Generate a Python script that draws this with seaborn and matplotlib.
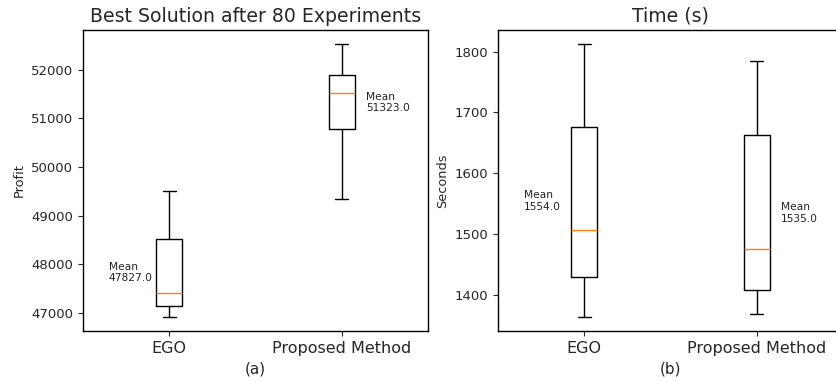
import pandas as pd
import seaborn as sns
import matplotlib.pyplot as plt

sns.set_style("ticks")
plt.rcParams['font.family'] = ['DejaVu Sans']

# Daten (min, Q1, Median, Q3, max)
categories = ["EGO", "Proposed Method"]
profit_ego = [46910, 47150, 47410, 48510, 49510]
profit_proposed = [49340, 50770, 51520, 51890, 52530]
time_ego = [1363, 1430, 1507, 1676, 1813]
time_proposed = [1368, 1408, 1475, 1663, 1784]
profit_means = [47827.0, 51323.0]
time_means = [1554.0, 1535.0]


def long_df(a, b, name):
    return pd.DataFrame({
        "method": [categories[0]] * len(a) + [categories[1]] * len(b),
        name: a + b,
    })


def draw_panel(ax, df, col, means, title, ylabel, xlabel):
    sns.boxplot(data=df, x="method", y=col, order=categories, ax=ax,
                width=0.15, fill=False, color="black", linewidth=1,
                whis=1.5, capwidths=0.075,
                medianprops={"color": "#ff7f0e", "linewidth": 1})
    # Mittelwert als Text neben der Box
    for i, m in enumerate(means):
        xt = i - 0.35 if i == 0 else i + 0.14
        ax.text(xt, m, f"Mean\n{m:.1f}", fontsize=7.7, va="center",
                ha="left", color="#222222")
    ax.set_title(title, fontsize=13.6)
    ax.set_ylabel(ylabel, fontsize=9.3)
    ax.set_xlabel(xlabel, fontsize=11)
    ax.tick_params(axis="x", labelsize=11.5)
    ax.tick_params(axis="y", labelsize=9.5)
    for s in ax.spines.values():
        s.set_color("black")
        s.set_linewidth(1)


fig = plt.figure(figsize=(8.36, 3.81), dpi=100)
ax1 = fig.add_axes([0.0993, 0.1312, 0.4127, 0.790])
ax2 = fig.add_axes([0.5957, 0.1312, 0.4127, 0.790])

draw_panel(ax1, long_df(profit_ego, profit_proposed, "Profit"), "Profit",
           profit_means, "Best Solution after 80 Experiments", "Profit", "(a)")
draw_panel(ax2, long_df(time_ego, time_proposed, "Seconds"), "Seconds",
           time_means, "Time (s)", "Seconds", "(b)")

fig.savefig("out.png", dpi=100)
